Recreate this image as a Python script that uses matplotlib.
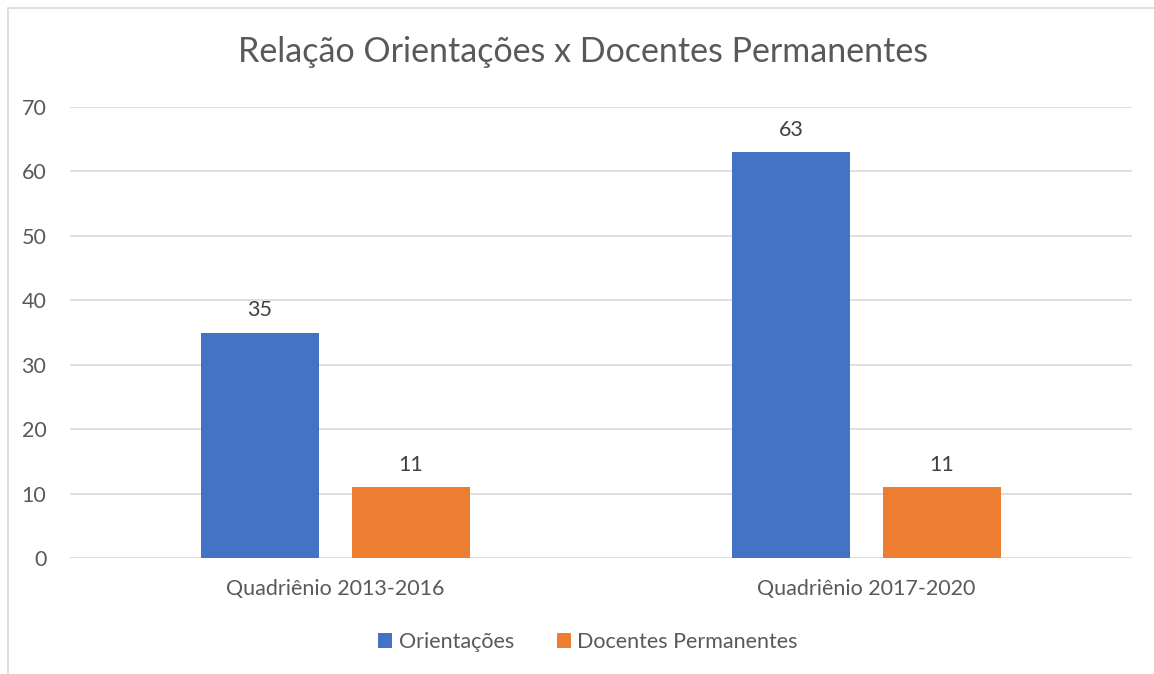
import matplotlib
matplotlib.use("Agg")
import matplotlib.pyplot as plt
from matplotlib.patches import Rectangle
import numpy as np

categories = ["Quadriênio 2013-2016", "Quadriênio 2017-2020"]
orientacoes = [35, 63]
docentes = [11, 11]
series_names = ["Orientações", "Docentes Permanentes"]
yticks = [0, 10, 20, 30, 40, 50, 60, 70]

plt.rcParams['font.family'] = ['Lato', 'DejaVu Sans']
txt = '#595959'
W, H = 1154, 674
fig = plt.figure(figsize=(W/100, H/100), dpi=100)
ax = fig.add_axes([70/W, 1-558/H, (1132-70)/W, (558-107)/H])

x = np.arange(len(categories))
w = 0.222
off = 0.142
fs = 15.5
b1 = ax.bar(x - off, orientacoes, w, color='#4472C4', label=series_names[0], zorder=3)
b2 = ax.bar(x + off, docentes, w, color='#ED7D31', label=series_names[1], zorder=3)
for bars, vals in ((b1, orientacoes), (b2, docentes)):
    for r, v in zip(bars, vals):
        ax.annotate(str(v), (r.get_x() + r.get_width()/2, v), xytext=(0, 9),
                    textcoords='offset points', ha='center', va='bottom',
                    fontsize=fs, color='#404040')

ax.set_xlim(-0.5, 1.5)
ax.set_ylim(0, 70)
ax.set_yticks(yticks)
ax.set_xticks(x)
ax.set_xticklabels(categories)
ax.tick_params(axis='both', length=0, labelsize=fs, colors=txt)
ax.tick_params(axis='y', pad=17)
ax.tick_params(axis='x', pad=15)
ax.grid(axis='y', color='#D9D9D9', linewidth=1.2, zorder=0)
for s in ax.spines.values():
    s.set_visible(False)

fig.suptitle("Relação Orientações x Docentes Permanentes", x=583/W, y=1-52/H,
             va='center', fontsize=24.5, color=txt)

leg = fig.legend(handles=[b1, b2], loc='center', bbox_to_anchor=(588/W, 1-642/H),
                 ncol=2, frameon=False, fontsize=fs, handlelength=0.65,
                 handleheight=0.65, handletextpad=0.3, columnspacing=2.0)
for t in leg.get_texts():
    t.set_color(txt)

fig.patches.append(Rectangle((7.5/W, -0.1), 1.2, 1-8.5/H + 0.1, transform=fig.transFigure,
                             fill=False, edgecolor='#D9D9D9', linewidth=1.2))

fig.savefig('out.png', dpi=100)
